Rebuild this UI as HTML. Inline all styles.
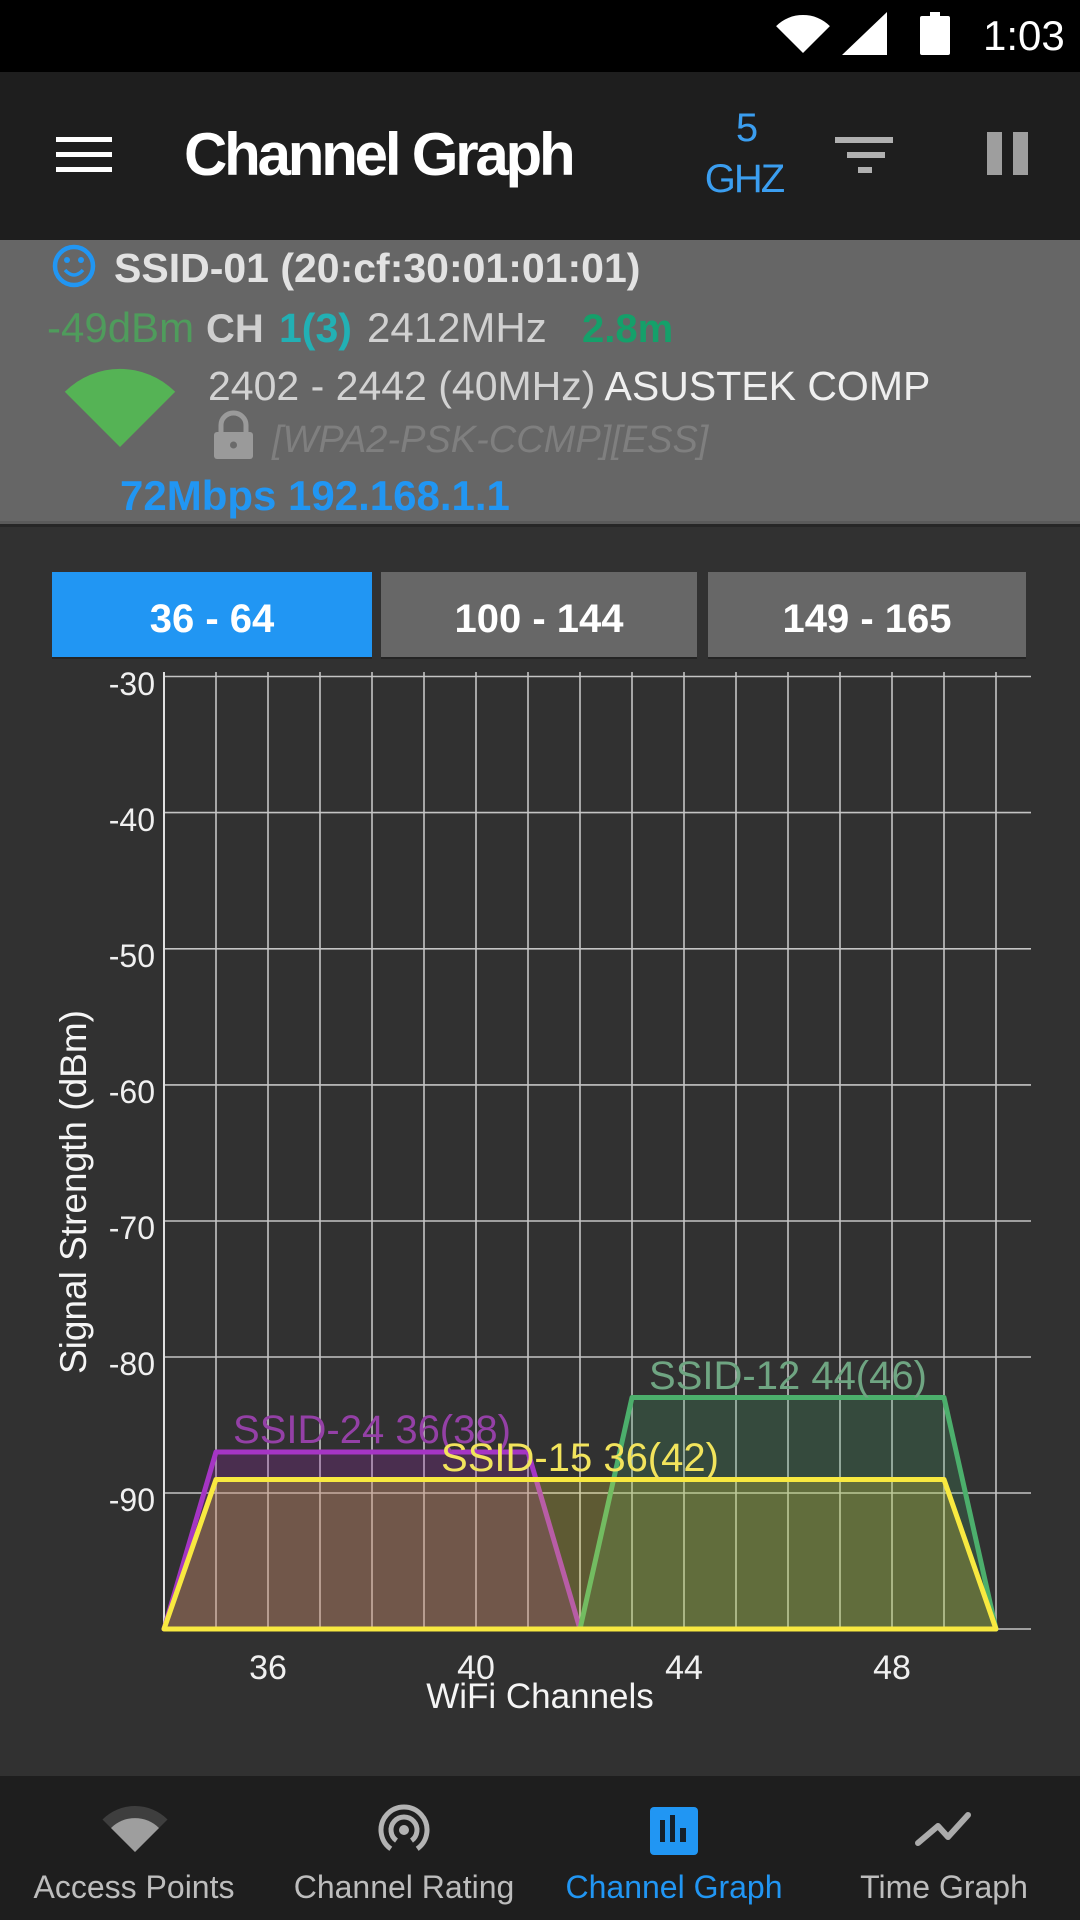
<!DOCTYPE html>
<html>
<head>
<meta charset="utf-8">
<style>
  html,body{margin:0;padding:0;background:#313131;}
  body{width:1080px;height:1920px;overflow:hidden;position:relative;}
  svg{position:absolute;left:0;top:0;display:block;}
  text{font-family:"Liberation Sans", sans-serif;}
</style>
</head>
<body>
<svg width="1080" height="1920" viewBox="0 0 1080 1920" xmlns="http://www.w3.org/2000/svg">
  <!-- backgrounds -->
  <rect x="0" y="0" width="1080" height="72" fill="#000"/>
  <rect x="0" y="72" width="1080" height="168" fill="#1e1e1e"/>
  <rect x="0" y="240" width="1080" height="284" fill="#666666"/>
  <rect x="0" y="521" width="1080" height="3" fill="#5a5a5a"/>
  <rect x="0" y="524" width="1080" height="3" fill="#262626"/>
  <rect x="0" y="527" width="1080" height="1249" fill="#313131"/>
  <rect x="0" y="1776" width="1080" height="144" fill="#1e1e1e"/>

  <!-- status bar -->
  <path d="M803 53 L776.1 26.1 A38 38 0 0 1 829.9 26.1 Z" fill="#fff"/>
  <path d="M842 55 L887 55 L887 12 Z" fill="#fff"/>
  <rect x="930" y="12" width="10" height="6" fill="#fff"/>
  <rect x="920" y="16" width="30" height="39" rx="2" fill="#fff"/>
  <text x="983" y="50" font-size="42" fill="#fff">1:03</text>

  <!-- toolbar -->
  <rect x="56" y="137" width="56" height="5" fill="#fff"/>
  <rect x="56" y="152" width="56" height="5" fill="#fff"/>
  <rect x="56" y="167" width="56" height="5" fill="#fff"/>
  <text x="184" y="175" font-size="60" font-weight="bold" fill="#fff" letter-spacing="-3.2">Channel Graph</text>
  <text x="747" y="141" font-size="40" fill="#3b9ef0" text-anchor="middle">5</text>
  <text x="744" y="192" font-size="40" fill="#3b9ef0" text-anchor="middle" letter-spacing="-2">GHZ</text>
  <rect x="835" y="137" width="58" height="6" fill="#b0b0b0"/>
  <rect x="847" y="152" width="38" height="6" fill="#b0b0b0"/>
  <rect x="858" y="167" width="14" height="6" fill="#b0b0b0"/>
  <rect x="987" y="132" width="15" height="43" fill="#9e9e9e"/>
  <rect x="1013" y="132" width="15" height="43" fill="#9e9e9e"/>

  <!-- info panel -->
  <circle cx="74" cy="266" r="19" fill="none" stroke="#2196F3" stroke-width="4.5"/>
  <circle cx="67" cy="260" r="3" fill="#2196F3"/>
  <circle cx="81" cy="260" r="3" fill="#2196F3"/>
  <path d="M65 270 Q74 280 83 270" fill="none" stroke="#2196F3" stroke-width="3.5"/>
  <text x="114" y="282" font-size="41" font-weight="bold" fill="#e2e2e2">SSID-01 (20:cf:30:01:01:01)</text>

  <text x="47" y="342" font-size="42" fill="#4f9c5c">-49dBm</text>
  <text x="206" y="342" font-size="40" font-weight="bold" fill="#cfcfcf">CH</text>
  <text x="279" y="342" font-size="41" font-weight="bold" fill="#22b0b4">1(3)</text>
  <text x="367" y="342" font-size="42" fill="#d0d0d0">2412MHz</text>
  <text x="582" y="342" font-size="40" font-weight="bold" fill="#15a06a">2.8m</text>

  <path d="M120 447 L64.8 391.8 A78 78 0 0 1 175.2 391.8 Z" fill="#55b355"/>
  <text x="208" y="400" font-size="41" fill="#d2d2d2">2402 - 2442 (40MHz) <tspan fill="#efefef">ASUSTEK COMP</tspan></text>

  <path d="M221 433 L221 425 A12.5 12 0 0 1 246 425 L246 433" fill="none" stroke="#9a9a9a" stroke-width="5"/>
  <rect x="214" y="432" width="39" height="27" rx="3" fill="#9a9a9a"/>
  <circle cx="233.5" cy="445" r="3.5" fill="#6a6a6a"/>
  <text x="272" y="452" font-size="38" font-style="italic" fill="#7f7f7f">[WPA2-PSK-CCMP][ESS]</text>

  <text x="120" y="510" font-size="42" font-weight="bold" fill="#2196F3">72Mbps 192.168.1.1</text>

  <!-- tabs -->
  <rect x="52" y="574" width="320" height="85" fill="#1c1c1c" opacity="0.6"/>
  <rect x="381" y="574" width="316" height="85" fill="#1c1c1c" opacity="0.6"/>
  <rect x="708" y="574" width="318" height="85" fill="#1c1c1c" opacity="0.6"/>
  <rect x="52" y="572" width="320" height="85" fill="#2196F3"/>
  <rect x="381" y="572" width="316" height="85" fill="#676767"/>
  <rect x="708" y="572" width="318" height="85" fill="#676767"/>
  <text x="212" y="632" font-size="40" font-weight="bold" fill="#fff" text-anchor="middle">36 - 64</text>
  <text x="539" y="632" font-size="40" font-weight="bold" fill="#fff" text-anchor="middle">100 - 144</text>
  <text x="867" y="632" font-size="40" font-weight="bold" fill="#fff" text-anchor="middle">149 - 165</text>

  <!-- grid -->
  <g stroke="#c4c4c4" stroke-width="1.6">
    <line x1="216" y1="672" x2="216" y2="1630"/>
    <line x1="268" y1="672" x2="268" y2="1630"/>
    <line x1="320" y1="672" x2="320" y2="1630"/>
    <line x1="372" y1="672" x2="372" y2="1630"/>
    <line x1="424" y1="672" x2="424" y2="1630"/>
    <line x1="476" y1="672" x2="476" y2="1630"/>
    <line x1="528" y1="672" x2="528" y2="1630"/>
    <line x1="580" y1="672" x2="580" y2="1630"/>
    <line x1="632" y1="672" x2="632" y2="1630"/>
    <line x1="684" y1="672" x2="684" y2="1630"/>
    <line x1="736" y1="672" x2="736" y2="1630"/>
    <line x1="788" y1="672" x2="788" y2="1630"/>
    <line x1="840" y1="672" x2="840" y2="1630"/>
    <line x1="892" y1="672" x2="892" y2="1630"/>
    <line x1="944" y1="672" x2="944" y2="1630"/>
    <line x1="996" y1="672" x2="996" y2="1630"/>
    <line x1="164" y1="676.5" x2="1031" y2="676.5"/>
    <line x1="164" y1="812.6" x2="1031" y2="812.6"/>
    <line x1="164" y1="948.8" x2="1031" y2="948.8"/>
    <line x1="164" y1="1084.9" x2="1031" y2="1084.9"/>
    <line x1="164" y1="1221" x2="1031" y2="1221"/>
    <line x1="164" y1="1357" x2="1031" y2="1357"/>
    <line x1="164" y1="1493" x2="1031" y2="1493"/>
    <line x1="164" y1="1629" x2="1031" y2="1629"/>
  </g>
  <line x1="164" y1="672" x2="164" y2="1630" stroke="#e0e0e0" stroke-width="2"/>

  <!-- series -->
  <path d="M164 1629 L216 1452 L528 1452 L580 1629 Z" fill="rgba(156,39,176,0.24)" stroke="#a535c4" stroke-width="5" stroke-linejoin="round"/>
  <path d="M580 1629 L632 1397.5 L944 1397.5 L996 1629 Z" fill="rgba(70,175,110,0.2)" stroke="#4caf6c" stroke-width="5" stroke-linejoin="round"/>
  <path d="M164 1629 L216 1479.5 L944 1479.5 L996 1629 Z" fill="rgba(255,235,59,0.22)" stroke="#f8e940" stroke-width="5" stroke-linejoin="round"/>

  <text x="372" y="1443" font-size="40" fill="#9440a6" text-anchor="middle">SSID-24 36(38)</text>
  <text x="580" y="1471" font-size="40" fill="#f2e45c" text-anchor="middle">SSID-15 36(42)</text>
  <text x="788" y="1389" font-size="40" fill="#6fa582" text-anchor="middle">SSID-12 44(46)</text>

  <!-- y ticks -->
  <g font-size="32" fill="#f0f0f0" text-anchor="end">
    <text x="155" y="695">-30</text>
    <text x="155" y="831">-40</text>
    <text x="155" y="967">-50</text>
    <text x="155" y="1103">-60</text>
    <text x="155" y="1239">-70</text>
    <text x="155" y="1375">-80</text>
    <text x="155" y="1511">-90</text>
  </g>
  <!-- x ticks -->
  <g font-size="34" fill="#f0f0f0" text-anchor="middle">
    <text x="268" y="1679">36</text>
    <text x="476" y="1679">40</text>
    <text x="684" y="1679">44</text>
    <text x="892" y="1679">48</text>
  </g>
  <text x="540" y="1708" font-size="35" fill="#f5f5f5" text-anchor="middle">WiFi Channels</text>
  <text transform="translate(86,1192) rotate(-90)" x="0" y="0" font-size="37" fill="#f5f5f5" text-anchor="middle">Signal Strength (dBm)</text>

  <!-- bottom nav -->
  <path d="M135 1852 L102.5 1819.5 A46 46 0 0 1 167.5 1819.5 Z" fill="#3e3e3e"/>
  <path d="M135 1852 L111 1828 A34 34 0 0 1 159 1828 Z" fill="#9e9e9e"/>
  <path d="M390.8 1848.8 A23 23 0 1 1 417.2 1848.8" fill="none" stroke="#b3b3b3" stroke-width="5"/>
  <path d="M396.5 1840.6 A13 13 0 1 1 411.5 1840.6" fill="none" stroke="#b3b3b3" stroke-width="5"/>
  <circle cx="404" cy="1830" r="5" fill="#b3b3b3"/>
  <rect x="650" y="1807" width="48" height="48" rx="4" fill="#2196F3"/>
  <rect x="660" y="1820" width="5" height="22" fill="#15202b"/>
  <rect x="670" y="1815" width="5" height="27" fill="#15202b"/>
  <rect x="680" y="1828" width="6" height="14" fill="#15202b"/>
  <polyline points="918,1843 938,1826 948,1837 968,1815" fill="none" stroke="#ababab" stroke-width="6" stroke-linecap="round" stroke-linejoin="round"/>

  <g font-size="32" text-anchor="middle">
    <text x="134" y="1898" fill="#bdbdbd">Access Points</text>
    <text x="404" y="1898" fill="#bdbdbd">Channel Rating</text>
    <text x="674" y="1898" fill="#2196F3">Channel Graph</text>
    <text x="944" y="1898" fill="#bdbdbd">Time Graph</text>
  </g>
</svg>
</body>
</html>
